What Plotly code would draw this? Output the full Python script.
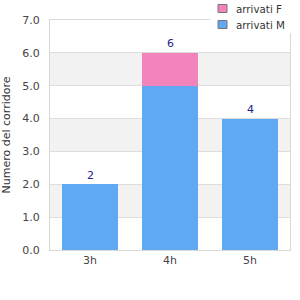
import plotly.graph_objects as go

categories = ["3h", "4h", "5h"]
arrivati_m = [2, 5, 4]
arrivati_f = [0, 1, 0]
y_ticks = [0, 1, 2, 3, 4, 5, 6, 7]
legend_labels = ["arrivati F", "arrivati M"]

totals = [m + f for m, f in zip(arrivati_m, arrivati_f)]

blue = "#60a8f2"
pink = "#f283bb"
font = "DejaVu Sans"

fig = go.Figure()
fig.add_trace(go.Bar(x=categories, y=arrivati_m, marker=dict(color=blue, line=dict(width=0)),
                     width=0.71, showlegend=False, name="arrivati M"))
fig.add_trace(go.Bar(x=categories, y=arrivati_f, marker=dict(color=pink, line=dict(width=0)),
                     width=0.71, showlegend=False, name="arrivati F"))

annotations = []
for c, t in zip(categories, totals):
    annotations.append(dict(x=c, y=t, xref="x", yref="y", text=str(t), showarrow=False,
                            yanchor="middle", yshift=9,
                            font=dict(color="#24248c", size=11, family=font)))

shapes = []
for i in range(len(y_ticks) - 1):
    if i % 2 == 1:
        shapes.append(dict(type="rect", xref="paper", yref="y", x0=0, x1=1,
                           y0=y_ticks[i], y1=y_ticks[i + 1], fillcolor="#f2f2f2",
                           line=dict(width=0), layer="below"))

# legend (manual, compact)
shapes.append(dict(type="rect", xref="paper", yref="paper", x0=0.667, x1=1.03, y0=0.943, y1=1.1,
                   fillcolor="white", line=dict(width=0), layer="above"))
legend_colors = [pink, blue]
legend_y = [(1.0326, 1.0674), (0.963, 0.9978)]
for lab, col, (y0, y1) in zip(legend_labels, legend_colors, legend_y):
    shapes.append(dict(type="rect", xref="paper", yref="paper", x0=0.7, x1=0.7375, y0=y0, y1=y1,
                       fillcolor=col, line=dict(color="#777", width=1), layer="above"))
    annotations.append(dict(x=0.767, y=(y0 + y1) / 2, xref="paper", yref="paper", text=lab,
                            showarrow=False, xanchor="left", yanchor="middle",
                            font=dict(size=10.3, color="#333", family=font)))

fig.update_layout(
    width=300, height=300,
    margin=dict(l=50, r=10, t=20, b=50, autoexpand=False),
    barmode="stack",
    paper_bgcolor="white", plot_bgcolor="white",
    font=dict(family=font, size=11, color="#444"),
    shapes=shapes,
    annotations=annotations,
    showlegend=False,
)
fig.update_xaxes(showline=True, mirror=True, linecolor="#d9d9d9", linewidth=1, automargin=False,
                 showgrid=False, ticks="", tickfont=dict(size=11, color="#444"))
fig.update_yaxes(range=[0, 7], tickvals=y_ticks, tickformat=".1f", showline=True, mirror=True,
                 linecolor="#d9d9d9", linewidth=1, showgrid=True, gridcolor="#dddddd", automargin=False,
                 zeroline=False, ticks="", ticklabelstandoff=7, tickfont=dict(size=11, color="#444"),
                 title=dict(text="Numero del corridore", font=dict(size=11, color="#333"), standoff=9))

fig.write_html("out.html")
